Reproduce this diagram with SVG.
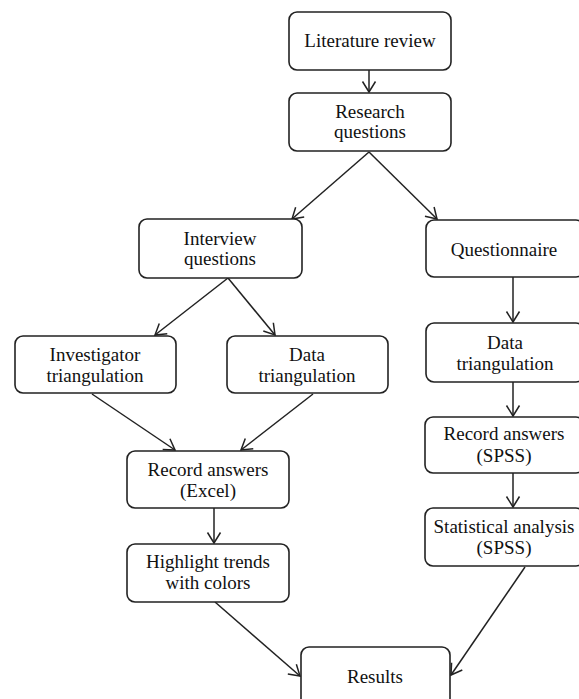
<svg xmlns="http://www.w3.org/2000/svg" width="579" height="699" viewBox="0 0 579 699">
<defs>
<marker id="arr" markerUnits="userSpaceOnUse" markerWidth="14" markerHeight="16" viewBox="0 0 14 16" refX="12" refY="8" orient="auto">
<path d="M1.5,1.5 L12,8 L1.5,14.5" fill="none" stroke="#222" stroke-width="1.5"/>
</marker>
<style>
.box{fill:#fff;stroke:#222;stroke-width:1.6}
.t{font-family:'Liberation Serif','Times New Roman','DejaVu Serif',serif;font-size:19px;fill:#111;text-anchor:middle}
.c{fill:none;stroke:#222;stroke-width:1.5;marker-end:url(#arr)}
</style>
</defs>
<rect width="579" height="699" fill="#fff"/>
<g id="connectors">
<line class="c" x1="369" y1="70" x2="369" y2="92"/>
<line class="c" x1="369" y1="152" x2="292" y2="219"/>
<line class="c" x1="369" y1="152" x2="437" y2="219"/>
<line class="c" x1="513" y1="277" x2="513" y2="322"/>
<line class="c" x1="228" y1="278" x2="155" y2="335"/>
<line class="c" x1="228" y1="278" x2="275" y2="335"/>
<line class="c" x1="92" y1="394" x2="175" y2="450"/>
<line class="c" x1="313" y1="394" x2="241" y2="450"/>
<line class="c" x1="513" y1="382" x2="513" y2="416"/>
<line class="c" x1="214" y1="508" x2="214" y2="543"/>
<line class="c" x1="513" y1="473" x2="513" y2="507"/>
<line class="c" x1="215" y1="602" x2="300" y2="676"/>
<line class="c" x1="525" y1="567" x2="451" y2="675"/>
</g>
<g id="literature">
<rect class="box" x="289" y="12" width="162" height="58" rx="8"/>
<text class="t" x="370" y="47">Literature review</text>
</g>
<g id="research">
<rect class="box" x="289" y="93" width="162" height="58" rx="8"/>
<text class="t" x="370" y="118">Research</text>
<text class="t" x="370" y="138">questions</text>
</g>
<g id="interview">
<rect class="box" x="139" y="219" width="163" height="59" rx="8"/>
<text class="t" x="220" y="245">Interview</text>
<text class="t" x="220" y="265">questions</text>
</g>
<g id="questionnaire">
<rect class="box" x="426" y="220" width="158" height="57" rx="8"/>
<text class="t" x="504" y="256">Questionnaire</text>
</g>
<g id="investigator">
<rect class="box" x="15" y="336" width="161" height="57" rx="8"/>
<text class="t" x="95" y="361">Investigator</text>
<text class="t" x="95" y="382">triangulation</text>
</g>
<g id="data1">
<rect class="box" x="227" y="336" width="161" height="57" rx="8"/>
<text class="t" x="307" y="361">Data</text>
<text class="t" x="307" y="382">triangulation</text>
</g>
<g id="data2">
<rect class="box" x="426" y="323" width="158" height="59" rx="8"/>
<text class="t" x="505" y="349">Data</text>
<text class="t" x="505" y="370">triangulation</text>
</g>
<g id="record-excel">
<rect class="box" x="127" y="451" width="162" height="57" rx="8"/>
<text class="t" x="208" y="476">Record answers</text>
<text class="t" x="208" y="497">(Excel)</text>
</g>
<g id="highlight">
<rect class="box" x="127" y="544" width="162" height="58" rx="8"/>
<text class="t" x="208" y="568">Highlight trends</text>
<text class="t" x="208" y="589">with colors</text>
</g>
<g id="record-spss">
<rect class="box" x="425" y="417" width="159" height="56" rx="8"/>
<text class="t" x="504" y="440">Record answers</text>
<text class="t" x="504" y="462">(SPSS)</text>
</g>
<g id="statistical">
<rect class="box" x="425" y="508" width="159" height="58" rx="8"/>
<text class="t" x="504" y="533">Statistical analysis</text>
<text class="t" x="504" y="554">(SPSS)</text>
</g>
<g id="results">
<rect class="box" x="301" y="647" width="149" height="62" rx="8"/>
<text class="t" x="375" y="683">Results</text>
</g>
</svg>
